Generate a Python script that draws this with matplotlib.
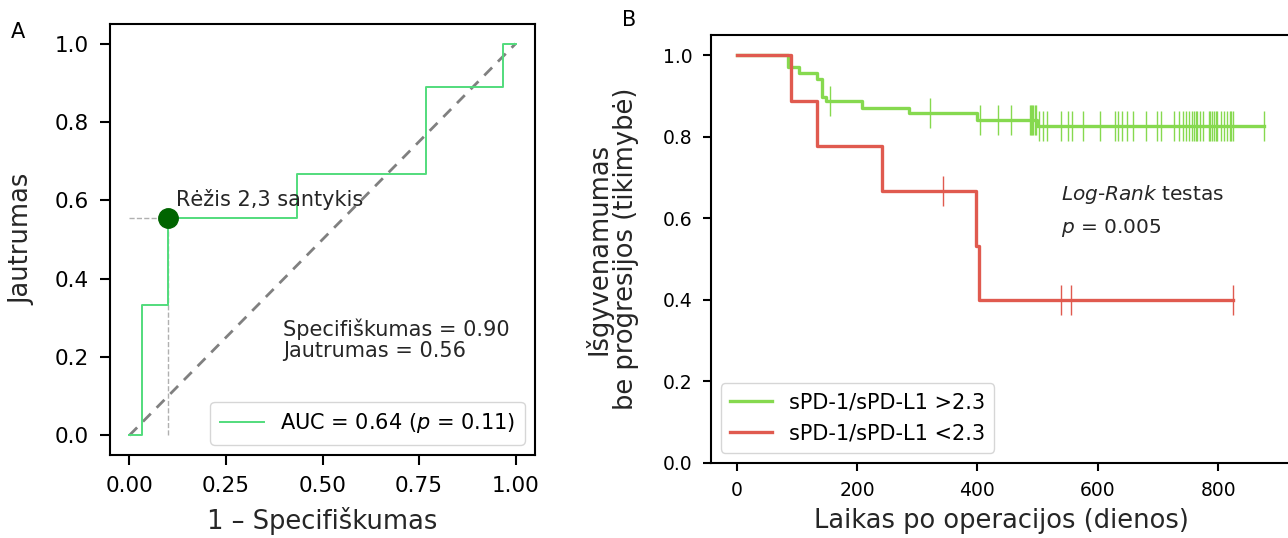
import numpy as np
import matplotlib
matplotlib.use("Agg")
import matplotlib.pyplot as plt

# ---------------- data ----------------
# ROC curve (panel A)
roc_fpr = [0.0, 0.033, 0.033, 0.10, 0.10, 0.433, 0.433, 0.767, 0.767, 0.967, 0.967, 1.0]
roc_tpr = [0.0, 0.0, 0.333, 0.333, 0.556, 0.556, 0.667, 0.667, 0.889, 0.889, 1.0, 1.0]
cut_fpr = 0.10
cut_tpr = 0.556
auc_label = "AUC = 0.64 ($\\it{p}$ = 0.11)"
cut_label = "Rėžis 2,3 santykis"
stats_label = "Specifiškumas = 0.90\nJautrumas = 0.56"
roc_ticks = [0.00, 0.25, 0.50, 0.75, 1.00]
roc_yticks = [0.0, 0.2, 0.4, 0.6, 0.8, 1.0]

# Kaplan-Meier curves (panel B)
hi_times = [0, 85, 104, 133, 142, 149, 209, 286, 399, 499, 876]
hi_surv = [1.0, 0.972, 0.958, 0.943, 0.898, 0.887, 0.872, 0.858, 0.841, 0.826, 0.826]
hi_censor = [155, 322, 405, 434, 456, 487, 489, 491, 493, 495, 497, 503, 509, 516,
             539, 551, 557, 575, 603, 629, 634, 640, 648, 659, 680, 698, 705, 727,
             734, 742, 747, 751, 757, 760, 763, 765, 769, 775, 784, 787, 790, 793,
             796, 798, 804, 810, 815, 820, 822, 825, 876]
lo_times = [0, 90, 134, 241, 397, 402, 824]
lo_surv = [1.0, 0.889, 0.778, 0.667, 0.533, 0.40, 0.40]
lo_censor = [343, 538, 556, 824]
hi_label = "sPD-1/sPD-L1 >2.3"
lo_label = "sPD-1/sPD-L1 <2.3"
km_xticks = [0, 200, 400, 600, 800]
km_yticks = [0.0, 0.2, 0.4, 0.6, 0.8, 1.0]

# ---------------- figure ----------------
plt.rcParams['font.family'] = ['DejaVu Sans']
fig = plt.figure(figsize=(12.88, 5.38), dpi=100)
txt_color = '#262626'

# Panel A
axA = fig.add_axes([110/1288, 83/538, 425/1288, 431/538])
roc_color = '#52dc7c'
axA.plot([0, 1], [0, 1], linestyle='--', color='#808080', lw=2.0, dashes=(4, 3))
axA.plot([0, cut_fpr], [cut_tpr, cut_tpr], linestyle='--', color='#b0b0b0', lw=1.0)
axA.plot([cut_fpr, cut_fpr], [0, cut_tpr], linestyle='--', color='#b0b0b0', lw=1.0)
axA.plot(roc_fpr, roc_tpr, color=roc_color, lw=1.4, label=auc_label)
axA.plot([cut_fpr], [cut_tpr], 'o', color='#006400', ms=14)
axA.text(cut_fpr + 0.02, cut_tpr + 0.03, cut_label, fontsize=15, color=txt_color)
axA.text(0.398, 0.20, stats_label, fontsize=15, color=txt_color, va='baseline',
         linespacing=1.05)
axA.set_xlim(-0.05, 1.05)
axA.set_ylim(-0.05, 1.05)
axA.set_xticks(roc_ticks)
axA.set_xticklabels([f"{t:.2f}" for t in roc_ticks])
axA.set_yticks(roc_yticks)
axA.set_yticklabels([f"{t:.1f}" for t in roc_yticks])
axA.tick_params(labelsize=15.5, length=7, width=1.5, pad=8)
axA.set_xlabel("1 – Specifiškumas", fontsize=18.5, color=txt_color, labelpad=8)
axA.set_ylabel("Jautrumas", fontsize=18.5, color=txt_color, labelpad=14)
for s in axA.spines.values():
    s.set_linewidth(1.5)
axA.legend(loc='lower right', fontsize=15, handlelength=2.1,
           borderpad=0.45, fancybox=True)
fig.text(11/1288, 1 - 32/538, "A", fontsize=15, va='center')

# Panel B
axB = fig.add_axes([710.7/1288, 75/538, 581/1288, 428/538])
hi_color = '#86d94f'
lo_color = '#e05a4f'


def step_value(times, surv, t):
    idx = np.searchsorted(times, t, side='right') - 1
    return np.asarray(surv)[idx]


axB.plot(hi_times, hi_surv, drawstyle='steps-post', color=hi_color, lw=2.4, label=hi_label)
axB.plot(hi_censor, step_value(hi_times, hi_surv, hi_censor), linestyle='none',
         marker='|', ms=22, mew=1.0, color=hi_color)
axB.plot(lo_times, lo_surv, drawstyle='steps-post', color=lo_color, lw=2.4, label=lo_label)
axB.plot(lo_censor, step_value(lo_times, lo_surv, lo_censor), linestyle='none',
         marker='|', ms=22, mew=1.0, color=lo_color)
axB.set_xlim(-43, 922)
axB.set_ylim(0, 1.05)
axB.set_xticks(km_xticks)
axB.set_yticks(km_yticks)
axB.set_yticklabels([f"{t:.1f}" for t in km_yticks])
axB.tick_params(labelsize=13.5, length=6, width=1.5, pad=7)
axB.set_xlabel("Laikas po operacijos (dienos)", fontsize=18.5, color=txt_color, labelpad=6)
axB.set_ylabel("Išgyvenamumas\nbe progresijos (tikimybė)", fontsize=18.5, color=txt_color,
               linespacing=1.05, labelpad=17)
for s in axB.spines.values():
    s.set_linewidth(1.5)
axB.text(538, 0.645, "$\\it{Log}$-$\\it{Rank}$ testas", fontsize=14.5, color=txt_color)
axB.text(538, 0.565, "$\\it{p}$ = 0.005", fontsize=14.5, color=txt_color)
axB.legend(loc='lower left', fontsize=15, handlelength=2.0, borderpad=0.45)
fig.text(622/1288, 1 - 20/538, "B", fontsize=15, va='center')

fig.savefig("out.png", dpi=100)
